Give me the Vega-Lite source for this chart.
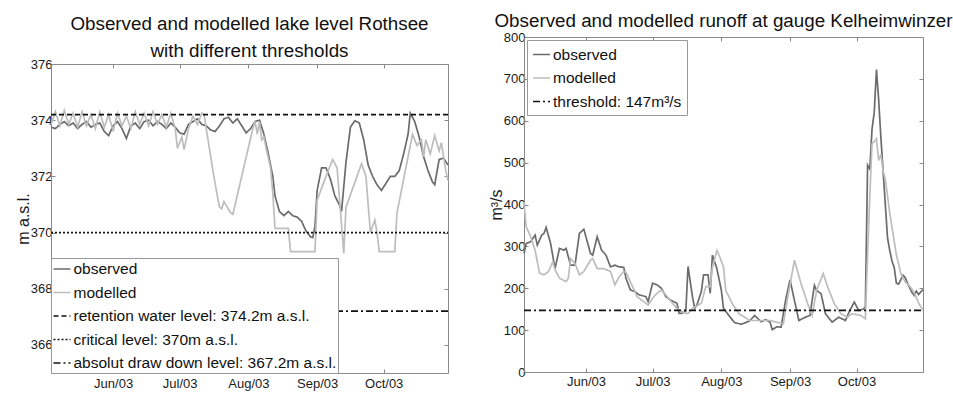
{
  "$schema": "https://vega.github.io/schema/vega-lite/v6.json",
  "padding": {"left": 15, "top": 12, "right": 5, "bottom": 2},
  "spacing": 36,
  "config": {
    "font": "Liberation Sans",
    "view": {"stroke": null},
    "axis": {"labelFont": "Liberation Sans", "labelFontSize": 13, "labelColor": "#1a1a1a", "titleFont": "Liberation Sans", "titleFontSize": 16, "titleFontWeight": "normal", "titleColor": "#1a1a1a", "domainColor": "#8a8a8a", "tickColor": "#8a8a8a", "tickSize": -4, "grid": false, "titlePadding": -1, "labelPadding": 3},
    "legend": {"labelFont": "Liberation Sans", "labelFontSize": 15.5, "labelColor": "#111", "strokeColor": "#999", "fillColor": "white", "padding": 5, "rowPadding": 5.5, "symbolType": "stroke", "symbolSize": 289, "symbolStrokeWidth": 1.7, "labelOffset": 2, "labelLimit": 400},
    "title": {"font": "Liberation Sans", "fontSize": 18.8, "fontWeight": "normal", "color": "#111", "frame": "group", "anchor": "middle"}
  },
  "datasets": {
    "lake": [
      {"s":"observed","d":"2003-05-04","v":373.75},{"s":"observed","d":"2003-05-06","v":373.7},{"s":"observed","d":"2003-05-08","v":373.85},{"s":"observed","d":"2003-05-10","v":373.95},{"s":"observed","d":"2003-05-12","v":373.8},{"s":"observed","d":"2003-05-14","v":373.9},{"s":"observed","d":"2003-05-16","v":373.7},{"s":"observed","d":"2003-05-18","v":373.85},{"s":"observed","d":"2003-05-20","v":373.95},{"s":"observed","d":"2003-05-22","v":373.75},{"s":"observed","d":"2003-05-24","v":373.85},{"s":"observed","d":"2003-05-26","v":373.9},{"s":"observed","d":"2003-05-28","v":373.6},{"s":"observed","d":"2003-05-30","v":373.45},{"s":"observed","d":"2003-06-01","v":373.8},{"s":"observed","d":"2003-06-03","v":373.95},{"s":"observed","d":"2003-06-05","v":373.7},{"s":"observed","d":"2003-06-07","v":373.35},{"s":"observed","d":"2003-06-09","v":373.8},{"s":"observed","d":"2003-06-11","v":373.9},{"s":"observed","d":"2003-06-13","v":373.7},{"s":"observed","d":"2003-06-15","v":373.95},{"s":"observed","d":"2003-06-17","v":374.0},{"s":"observed","d":"2003-06-19","v":373.8},{"s":"observed","d":"2003-06-21","v":373.95},{"s":"observed","d":"2003-06-23","v":373.85},{"s":"observed","d":"2003-06-25","v":373.7},{"s":"observed","d":"2003-06-27","v":373.9},{"s":"observed","d":"2003-06-29","v":373.75},{"s":"observed","d":"2003-07-01","v":373.55},{"s":"observed","d":"2003-07-03","v":373.5},{"s":"observed","d":"2003-07-05","v":373.85},{"s":"observed","d":"2003-07-07","v":373.95},{"s":"observed","d":"2003-07-09","v":374.05},{"s":"observed","d":"2003-07-11","v":373.85},{"s":"observed","d":"2003-07-13","v":373.8},{"s":"observed","d":"2003-07-15","v":373.65},{"s":"observed","d":"2003-07-17","v":373.6},{"s":"observed","d":"2003-07-19","v":373.8},{"s":"observed","d":"2003-07-21","v":374.05},{"s":"observed","d":"2003-07-23","v":374.1},{"s":"observed","d":"2003-07-25","v":373.9},{"s":"observed","d":"2003-07-27","v":374.05},{"s":"observed","d":"2003-07-29","v":373.8},{"s":"observed","d":"2003-07-31","v":373.55},{"s":"observed","d":"2003-08-02","v":373.7},{"s":"observed","d":"2003-08-04","v":373.95},{"s":"observed","d":"2003-08-06","v":374.0},{"s":"observed","d":"2003-08-08","v":373.5},{"s":"observed","d":"2003-08-10","v":372.8},{"s":"observed","d":"2003-08-12","v":372.0},{"s":"observed","d":"2003-08-13","v":371.3},{"s":"observed","d":"2003-08-15","v":370.75},{"s":"observed","d":"2003-08-17","v":370.6},{"s":"observed","d":"2003-08-19","v":370.75},{"s":"observed","d":"2003-08-21","v":370.6},{"s":"observed","d":"2003-08-23","v":370.55},{"s":"observed","d":"2003-08-25","v":370.4},{"s":"observed","d":"2003-08-27","v":370.05},{"s":"observed","d":"2003-08-29","v":369.85},{"s":"observed","d":"2003-08-30","v":369.82},{"s":"observed","d":"2003-08-31","v":370.2},{"s":"observed","d":"2003-09-01","v":371.5},{"s":"observed","d":"2003-09-03","v":372.3},{"s":"observed","d":"2003-09-05","v":372.3},{"s":"observed","d":"2003-09-07","v":371.9},{"s":"observed","d":"2003-09-09","v":371.3},{"s":"observed","d":"2003-09-11","v":371.0},{"s":"observed","d":"2003-09-12","v":370.75},{"s":"observed","d":"2003-09-14","v":372.5},{"s":"observed","d":"2003-09-16","v":373.75},{"s":"observed","d":"2003-09-18","v":373.98},{"s":"observed","d":"2003-09-20","v":373.9},{"s":"observed","d":"2003-09-22","v":373.3},{"s":"observed","d":"2003-09-24","v":372.4},{"s":"observed","d":"2003-09-26","v":372.0},{"s":"observed","d":"2003-09-28","v":371.7},{"s":"observed","d":"2003-09-30","v":371.5},{"s":"observed","d":"2003-10-02","v":371.75},{"s":"observed","d":"2003-10-04","v":372.0},{"s":"observed","d":"2003-10-06","v":372.0},{"s":"observed","d":"2003-10-08","v":372.2},{"s":"observed","d":"2003-10-10","v":372.8},{"s":"observed","d":"2003-10-12","v":373.5},{"s":"observed","d":"2003-10-13","v":374.25},{"s":"observed","d":"2003-10-15","v":373.95},{"s":"observed","d":"2003-10-17","v":373.4},{"s":"observed","d":"2003-10-19","v":372.7},{"s":"observed","d":"2003-10-21","v":372.2},{"s":"observed","d":"2003-10-23","v":371.8},{"s":"observed","d":"2003-10-24","v":371.7},{"s":"observed","d":"2003-10-26","v":372.6},{"s":"observed","d":"2003-10-28","v":372.65},{"s":"observed","d":"2003-10-30","v":372.4},
      {"s":"modelled","d":"2003-05-04","v":373.85},{"s":"modelled","d":"2003-05-06","v":374.3},{"s":"modelled","d":"2003-05-08","v":373.8},{"s":"modelled","d":"2003-05-10","v":374.35},{"s":"modelled","d":"2003-05-12","v":373.85},{"s":"modelled","d":"2003-05-14","v":374.25},{"s":"modelled","d":"2003-05-16","v":373.75},{"s":"modelled","d":"2003-05-18","v":374.3},{"s":"modelled","d":"2003-05-20","v":373.8},{"s":"modelled","d":"2003-05-22","v":374.2},{"s":"modelled","d":"2003-05-24","v":373.7},{"s":"modelled","d":"2003-05-26","v":374.3},{"s":"modelled","d":"2003-05-28","v":373.75},{"s":"modelled","d":"2003-05-30","v":374.2},{"s":"modelled","d":"2003-06-01","v":373.6},{"s":"modelled","d":"2003-06-03","v":374.25},{"s":"modelled","d":"2003-06-05","v":373.8},{"s":"modelled","d":"2003-06-07","v":374.15},{"s":"modelled","d":"2003-06-09","v":373.7},{"s":"modelled","d":"2003-06-11","v":374.3},{"s":"modelled","d":"2003-06-13","v":373.85},{"s":"modelled","d":"2003-06-15","v":374.25},{"s":"modelled","d":"2003-06-17","v":373.8},{"s":"modelled","d":"2003-06-19","v":374.3},{"s":"modelled","d":"2003-06-21","v":373.85},{"s":"modelled","d":"2003-06-23","v":374.2},{"s":"modelled","d":"2003-06-25","v":373.75},{"s":"modelled","d":"2003-06-27","v":374.25},{"s":"modelled","d":"2003-06-29","v":373.7},{"s":"modelled","d":"2003-06-30","v":373.0},{"s":"modelled","d":"2003-07-02","v":373.4},{"s":"modelled","d":"2003-07-03","v":372.95},{"s":"modelled","d":"2003-07-05","v":373.7},{"s":"modelled","d":"2003-07-07","v":374.15},{"s":"modelled","d":"2003-07-09","v":373.85},{"s":"modelled","d":"2003-07-11","v":374.25},{"s":"modelled","d":"2003-07-12","v":374.2},{"s":"modelled","d":"2003-07-13","v":373.7},{"s":"modelled","d":"2003-07-14","v":373.2},{"s":"modelled","d":"2003-07-16","v":372.2},{"s":"modelled","d":"2003-07-18","v":371.3},{"s":"modelled","d":"2003-07-19","v":370.9},{"s":"modelled","d":"2003-07-20","v":370.85},{"s":"modelled","d":"2003-07-21","v":371.1},{"s":"modelled","d":"2003-07-24","v":370.7},{"s":"modelled","d":"2003-07-25","v":370.65},{"s":"modelled","d":"2003-08-03","v":373.7},{"s":"modelled","d":"2003-08-04","v":373.95},{"s":"modelled","d":"2003-08-05","v":373.5},{"s":"modelled","d":"2003-08-06","v":373.95},{"s":"modelled","d":"2003-08-07","v":373.3},{"s":"modelled","d":"2003-08-08","v":373.4},{"s":"modelled","d":"2003-08-09","v":373.0},{"s":"modelled","d":"2003-08-11","v":372.3},{"s":"modelled","d":"2003-08-12","v":371.4},{"s":"modelled","d":"2003-08-13","v":370.15},{"s":"modelled","d":"2003-08-19","v":370.15},{"s":"modelled","d":"2003-08-20","v":369.32},{"s":"modelled","d":"2003-08-31","v":369.32},{"s":"modelled","d":"2003-09-01","v":371.15},{"s":"modelled","d":"2003-09-05","v":372.0},{"s":"modelled","d":"2003-09-08","v":372.6},{"s":"modelled","d":"2003-09-10","v":372.3},{"s":"modelled","d":"2003-09-13","v":369.26},{"s":"modelled","d":"2003-09-14","v":370.9},{"s":"modelled","d":"2003-09-21","v":372.45},{"s":"modelled","d":"2003-09-23","v":372.0},{"s":"modelled","d":"2003-09-25","v":370.0},{"s":"modelled","d":"2003-09-27","v":370.45},{"s":"modelled","d":"2003-09-28","v":370.0},{"s":"modelled","d":"2003-09-29","v":369.32},{"s":"modelled","d":"2003-10-06","v":369.32},{"s":"modelled","d":"2003-10-07","v":370.7},{"s":"modelled","d":"2003-10-14","v":373.5},{"s":"modelled","d":"2003-10-16","v":373.1},{"s":"modelled","d":"2003-10-18","v":373.3},{"s":"modelled","d":"2003-10-19","v":372.7},{"s":"modelled","d":"2003-10-20","v":373.3},{"s":"modelled","d":"2003-10-22","v":372.8},{"s":"modelled","d":"2003-10-24","v":373.45},{"s":"modelled","d":"2003-10-26","v":372.9},{"s":"modelled","d":"2003-10-27","v":373.2},{"s":"modelled","d":"2003-10-29","v":372.2},{"s":"modelled","d":"2003-10-30","v":371.85},
      {"s":"retention water level: 374.2m a.s.l.","d":"2003-05-04","v":374.2},{"s":"retention water level: 374.2m a.s.l.","d":"2003-10-30","v":374.2},
      {"s":"critical level: 370m a.s.l.","d":"2003-05-04","v":370},{"s":"critical level: 370m a.s.l.","d":"2003-10-30","v":370},
      {"s":"absolut draw down level: 367.2m a.s.l.","d":"2003-05-04","v":367.2},{"s":"absolut draw down level: 367.2m a.s.l.","d":"2003-10-30","v":367.2}
    ],
    "runoff": [
      {"s":"observed","d":"2003-05-04","v":283},{"s":"observed","d":"2003-05-05","v":307},{"s":"observed","d":"2003-05-07","v":311},{"s":"observed","d":"2003-05-09","v":327},{"s":"observed","d":"2003-05-10","v":303},{"s":"observed","d":"2003-05-12","v":327},{"s":"observed","d":"2003-05-13","v":331},{"s":"observed","d":"2003-05-14","v":345},{"s":"observed","d":"2003-05-16","v":307},{"s":"observed","d":"2003-05-18","v":247},{"s":"observed","d":"2003-05-20","v":295},{"s":"observed","d":"2003-05-22","v":291},{"s":"observed","d":"2003-05-23","v":295},{"s":"observed","d":"2003-05-25","v":255},{"s":"observed","d":"2003-05-27","v":255},{"s":"observed","d":"2003-05-29","v":331},{"s":"observed","d":"2003-05-31","v":341},{"s":"observed","d":"2003-06-03","v":283},{"s":"observed","d":"2003-06-04","v":279},{"s":"observed","d":"2003-06-06","v":323},{"s":"observed","d":"2003-06-08","v":291},{"s":"observed","d":"2003-06-10","v":279},{"s":"observed","d":"2003-06-12","v":251},{"s":"observed","d":"2003-06-14","v":255},{"s":"observed","d":"2003-06-16","v":251},{"s":"observed","d":"2003-06-18","v":250},{"s":"observed","d":"2003-06-19","v":224},{"s":"observed","d":"2003-06-21","v":196},{"s":"observed","d":"2003-06-23","v":192},{"s":"observed","d":"2003-06-25","v":184},{"s":"observed","d":"2003-06-28","v":180},{"s":"observed","d":"2003-06-29","v":168},{"s":"observed","d":"2003-07-01","v":212},{"s":"observed","d":"2003-07-03","v":208},{"s":"observed","d":"2003-07-05","v":200},{"s":"observed","d":"2003-07-07","v":180},{"s":"observed","d":"2003-07-09","v":172},{"s":"observed","d":"2003-07-12","v":164},{"s":"observed","d":"2003-07-13","v":140},{"s":"observed","d":"2003-07-14","v":140},{"s":"observed","d":"2003-07-16","v":145},{"s":"observed","d":"2003-07-17","v":252},{"s":"observed","d":"2003-07-19","v":180},{"s":"observed","d":"2003-07-20","v":152},{"s":"observed","d":"2003-07-21","v":160},{"s":"observed","d":"2003-07-23","v":192},{"s":"observed","d":"2003-07-24","v":232},{"s":"observed","d":"2003-07-26","v":232},{"s":"observed","d":"2003-07-27","v":188},{"s":"observed","d":"2003-07-28","v":279},{"s":"observed","d":"2003-07-30","v":247},{"s":"observed","d":"2003-08-01","v":196},{"s":"observed","d":"2003-08-02","v":152},{"s":"observed","d":"2003-08-05","v":131},{"s":"observed","d":"2003-08-07","v":118},{"s":"observed","d":"2003-08-10","v":114},{"s":"observed","d":"2003-08-12","v":118},{"s":"observed","d":"2003-08-14","v":123},{"s":"observed","d":"2003-08-16","v":135},{"s":"observed","d":"2003-08-19","v":120},{"s":"observed","d":"2003-08-21","v":125},{"s":"observed","d":"2003-08-23","v":119},{"s":"observed","d":"2003-08-24","v":101},{"s":"observed","d":"2003-08-26","v":108},{"s":"observed","d":"2003-08-28","v":107},{"s":"observed","d":"2003-08-30","v":171},{"s":"observed","d":"2003-09-01","v":220},{"s":"observed","d":"2003-09-03","v":171},{"s":"observed","d":"2003-09-05","v":123},{"s":"observed","d":"2003-09-08","v":131},{"s":"observed","d":"2003-09-10","v":135},{"s":"observed","d":"2003-09-12","v":207},{"s":"observed","d":"2003-09-13","v":195},{"s":"observed","d":"2003-09-15","v":187},{"s":"observed","d":"2003-09-17","v":139},{"s":"observed","d":"2003-09-20","v":119},{"s":"observed","d":"2003-09-23","v":131},{"s":"observed","d":"2003-09-26","v":123},{"s":"observed","d":"2003-09-28","v":147},{"s":"observed","d":"2003-09-30","v":167},{"s":"observed","d":"2003-10-02","v":147},{"s":"observed","d":"2003-10-04","v":150},{"s":"observed","d":"2003-10-05","v":155},{"s":"observed","d":"2003-10-06","v":494},{"s":"observed","d":"2003-10-07","v":485},{"s":"observed","d":"2003-10-08","v":580},{"s":"observed","d":"2003-10-09","v":620},{"s":"observed","d":"2003-10-10","v":722},{"s":"observed","d":"2003-10-11","v":650},{"s":"observed","d":"2003-10-12","v":560},{"s":"observed","d":"2003-10-13","v":480},{"s":"observed","d":"2003-10-14","v":400},{"s":"observed","d":"2003-10-15","v":320},{"s":"observed","d":"2003-10-16","v":290},{"s":"observed","d":"2003-10-17","v":265},{"s":"observed","d":"2003-10-18","v":250},{"s":"observed","d":"2003-10-19","v":212},{"s":"observed","d":"2003-10-20","v":210},{"s":"observed","d":"2003-10-22","v":231},{"s":"observed","d":"2003-10-23","v":225},{"s":"observed","d":"2003-10-24","v":212},{"s":"observed","d":"2003-10-26","v":190},{"s":"observed","d":"2003-10-27","v":183},{"s":"observed","d":"2003-10-28","v":193},{"s":"observed","d":"2003-10-29","v":185},{"s":"observed","d":"2003-10-31","v":197},
      {"s":"modelled","d":"2003-05-04","v":405},{"s":"modelled","d":"2003-05-05","v":347},{"s":"modelled","d":"2003-05-07","v":323},{"s":"modelled","d":"2003-05-09","v":291},{"s":"modelled","d":"2003-05-11","v":236},{"s":"modelled","d":"2003-05-13","v":232},{"s":"modelled","d":"2003-05-15","v":240},{"s":"modelled","d":"2003-05-17","v":263},{"s":"modelled","d":"2003-05-18","v":244},{"s":"modelled","d":"2003-05-20","v":224},{"s":"modelled","d":"2003-05-23","v":216},{"s":"modelled","d":"2003-05-24","v":224},{"s":"modelled","d":"2003-05-25","v":271},{"s":"modelled","d":"2003-05-27","v":259},{"s":"modelled","d":"2003-05-29","v":232},{"s":"modelled","d":"2003-05-31","v":240},{"s":"modelled","d":"2003-06-03","v":267},{"s":"modelled","d":"2003-06-04","v":271},{"s":"modelled","d":"2003-06-06","v":247},{"s":"modelled","d":"2003-06-09","v":247},{"s":"modelled","d":"2003-06-12","v":240},{"s":"modelled","d":"2003-06-14","v":208},{"s":"modelled","d":"2003-06-16","v":228},{"s":"modelled","d":"2003-06-18","v":240},{"s":"modelled","d":"2003-06-19","v":238},{"s":"modelled","d":"2003-06-22","v":204},{"s":"modelled","d":"2003-06-24","v":180},{"s":"modelled","d":"2003-06-27","v":168},{"s":"modelled","d":"2003-06-29","v":160},{"s":"modelled","d":"2003-07-01","v":176},{"s":"modelled","d":"2003-07-03","v":188},{"s":"modelled","d":"2003-07-05","v":196},{"s":"modelled","d":"2003-07-07","v":184},{"s":"modelled","d":"2003-07-10","v":164},{"s":"modelled","d":"2003-07-12","v":152},{"s":"modelled","d":"2003-07-14","v":145},{"s":"modelled","d":"2003-07-16","v":140},{"s":"modelled","d":"2003-07-17","v":140},{"s":"modelled","d":"2003-07-19","v":152},{"s":"modelled","d":"2003-07-20","v":155},{"s":"modelled","d":"2003-07-23","v":164},{"s":"modelled","d":"2003-07-25","v":204},{"s":"modelled","d":"2003-07-27","v":204},{"s":"modelled","d":"2003-07-28","v":250},{"s":"modelled","d":"2003-07-30","v":290},{"s":"modelled","d":"2003-07-31","v":279},{"s":"modelled","d":"2003-08-02","v":251},{"s":"modelled","d":"2003-08-03","v":195},{"s":"modelled","d":"2003-08-06","v":163},{"s":"modelled","d":"2003-08-09","v":139},{"s":"modelled","d":"2003-08-14","v":123},{"s":"modelled","d":"2003-08-19","v":123},{"s":"modelled","d":"2003-08-23","v":123},{"s":"modelled","d":"2003-08-29","v":115},{"s":"modelled","d":"2003-08-31","v":179},{"s":"modelled","d":"2003-09-03","v":267},{"s":"modelled","d":"2003-09-06","v":211},{"s":"modelled","d":"2003-09-09","v":163},{"s":"modelled","d":"2003-09-11","v":135},{"s":"modelled","d":"2003-09-13","v":195},{"s":"modelled","d":"2003-09-16","v":235},{"s":"modelled","d":"2003-09-18","v":203},{"s":"modelled","d":"2003-09-21","v":163},{"s":"modelled","d":"2003-09-24","v":139},{"s":"modelled","d":"2003-09-27","v":131},{"s":"modelled","d":"2003-09-29","v":139},{"s":"modelled","d":"2003-10-03","v":135},{"s":"modelled","d":"2003-10-05","v":127},{"s":"modelled","d":"2003-10-06","v":280},{"s":"modelled","d":"2003-10-07","v":420},{"s":"modelled","d":"2003-10-08","v":545},{"s":"modelled","d":"2003-10-09","v":550},{"s":"modelled","d":"2003-10-10","v":557},{"s":"modelled","d":"2003-10-11","v":505},{"s":"modelled","d":"2003-10-12","v":520},{"s":"modelled","d":"2003-10-13","v":480},{"s":"modelled","d":"2003-10-14","v":460},{"s":"modelled","d":"2003-10-15","v":420},{"s":"modelled","d":"2003-10-16","v":380},{"s":"modelled","d":"2003-10-17","v":346},{"s":"modelled","d":"2003-10-19","v":280},{"s":"modelled","d":"2003-10-21","v":235},{"s":"modelled","d":"2003-10-23","v":215},{"s":"modelled","d":"2003-10-25","v":205},{"s":"modelled","d":"2003-10-27","v":190},{"s":"modelled","d":"2003-10-29","v":165},{"s":"modelled","d":"2003-10-31","v":147},
      {"s":"threshold: 147m³/s","d":"2003-05-04","v":147},{"s":"threshold: 147m³/s","d":"2003-10-31","v":147}
    ]
  },
  "resolve": {"scale": {"color": "independent", "strokeDash": "independent"}, "legend": {"color": "independent", "strokeDash": "independent"}},
  "hconcat": [
    {
      "width": 397,
      "height": 336,
      "title": {"text": ["Observed and modelled lake level Rothsee", "with different thresholds"], "offset": -24, "lineHeight": 27},
      "data": {"name": "lake"},
      "resolve": {"axis": {"x": "independent", "y": "independent"}},
      "layer": [
        {
          "mark": {"type": "line", "strokeWidth": 1.7},
          "encoding": {
            "x": {"field": "d", "type": "temporal", "scale": {"type": "utc", "domain": [{"year": 2003, "month": 5, "date": 4, "utc": true}, {"year": 2003, "month": 10, "date": 30, "utc": true}]},
                  "axis": {"orient": "bottom", "title": null, "format": "%b/%y", "labelPadding": 8, "values": [{"year": 2003, "month": 6, "date": 1, "utc": true}, {"year": 2003, "month": 7, "date": 1, "utc": true}, {"year": 2003, "month": 8, "date": 1, "utc": true}, {"year": 2003, "month": 9, "date": 1, "utc": true}, {"year": 2003, "month": 10, "date": 1, "utc": true}]}},
            "y": {"field": "v", "type": "quantitative", "scale": {"domain": [365, 376], "range": [336, 27], "zero": false},
                  "axis": {"orient": "left", "title": "m a.s.l.", "values": [366, 368, 370, 372, 374, 376]}},
            "color": {"field": "s", "type": "nominal", "sort": null,
                      "scale": {"domain": ["observed", "modelled", "retention water level: 374.2m a.s.l.", "critical level: 370m a.s.l.", "absolut draw down level: 367.2m a.s.l."], "range": ["#6b6b6b", "#bdbdbd", "#111111", "#111111", "#111111"]},
                      "legend": {"title": null, "orient": "bottom-left", "offset": 0, "padding": 1.5}},
            "strokeDash": {"field": "s", "type": "nominal", "sort": null,
                      "scale": {"domain": ["observed", "modelled", "retention water level: 374.2m a.s.l.", "critical level: 370m a.s.l.", "absolut draw down level: 367.2m a.s.l."], "range": [[1, 0], [1, 0], [5, 3], [2, 2], [7, 3, 2, 3]]},
                      "legend": {"title": null, "orient": "bottom-left", "offset": 0, "padding": 1.5}}
          }
        },
        {
          "mark": {"type": "point", "opacity": 0},
          "encoding": {
            "x": {"field": "d", "type": "temporal", "axis": {"orient": "top", "title": null, "labels": false, "offset": -27, "values": [{"year": 2003, "month": 6, "date": 1, "utc": true}, {"year": 2003, "month": 7, "date": 1, "utc": true}, {"year": 2003, "month": 8, "date": 1, "utc": true}, {"year": 2003, "month": 9, "date": 1, "utc": true}, {"year": 2003, "month": 10, "date": 1, "utc": true}]}},
            "y": {"field": "v", "type": "quantitative", "axis": {"orient": "right", "title": null, "labels": false, "values": [366, 368, 370, 372, 374, 376]}}
          }
        }
      ]
    },
    {
      "width": 399,
      "height": 335,
      "title": {"text": "Observed and modelled runoff at gauge Kelheimwinzer", "offset": 0},
      "data": {"name": "runoff"},
      "resolve": {"axis": {"x": "independent", "y": "independent"}},
      "layer": [
        {
          "mark": {"type": "line", "strokeWidth": 1.7},
          "encoding": {
            "x": {"field": "d", "type": "temporal", "scale": {"type": "utc", "domain": [{"year": 2003, "month": 5, "date": 4, "utc": true}, {"year": 2003, "month": 10, "date": 31, "utc": true}]},
                  "axis": {"orient": "bottom", "title": null, "format": "%b/%y", "labelPadding": 7, "values": [{"year": 2003, "month": 6, "date": 1, "utc": true}, {"year": 2003, "month": 7, "date": 1, "utc": true}, {"year": 2003, "month": 8, "date": 1, "utc": true}, {"year": 2003, "month": 9, "date": 1, "utc": true}, {"year": 2003, "month": 10, "date": 1, "utc": true}]}},
            "y": {"field": "v", "type": "quantitative", "scale": {"domain": [0, 800]},
                  "axis": {"orient": "left", "title": "m³/s", "values": [0, 100, 200, 300, 400, 500, 600, 700, 800]}},
            "color": {"field": "s", "type": "nominal", "sort": null,
                      "scale": {"domain": ["observed", "modelled", "threshold: 147m³/s"], "range": ["#6b6b6b", "#bdbdbd", "#111111"]},
                      "legend": {"title": null, "orient": "top-left", "offset": 3}},
            "strokeDash": {"field": "s", "type": "nominal", "sort": null,
                      "scale": {"domain": ["observed", "modelled", "threshold: 147m³/s"], "range": [[1, 0], [1, 0], [7, 3, 2, 3]]},
                      "legend": {"title": null, "orient": "top-left", "offset": 3}}
          }
        },
        {
          "mark": {"type": "point", "opacity": 0},
          "encoding": {
            "x": {"field": "d", "type": "temporal", "axis": {"orient": "top", "title": null, "labels": false, "values": [{"year": 2003, "month": 6, "date": 1, "utc": true}, {"year": 2003, "month": 7, "date": 1, "utc": true}, {"year": 2003, "month": 8, "date": 1, "utc": true}, {"year": 2003, "month": 9, "date": 1, "utc": true}, {"year": 2003, "month": 10, "date": 1, "utc": true}]}},
            "y": {"field": "v", "type": "quantitative", "axis": {"orient": "right", "title": null, "labels": false, "values": [0, 100, 200, 300, 400, 500, 600, 700, 800]}}
          }
        }
      ]
    }
  ]
}
